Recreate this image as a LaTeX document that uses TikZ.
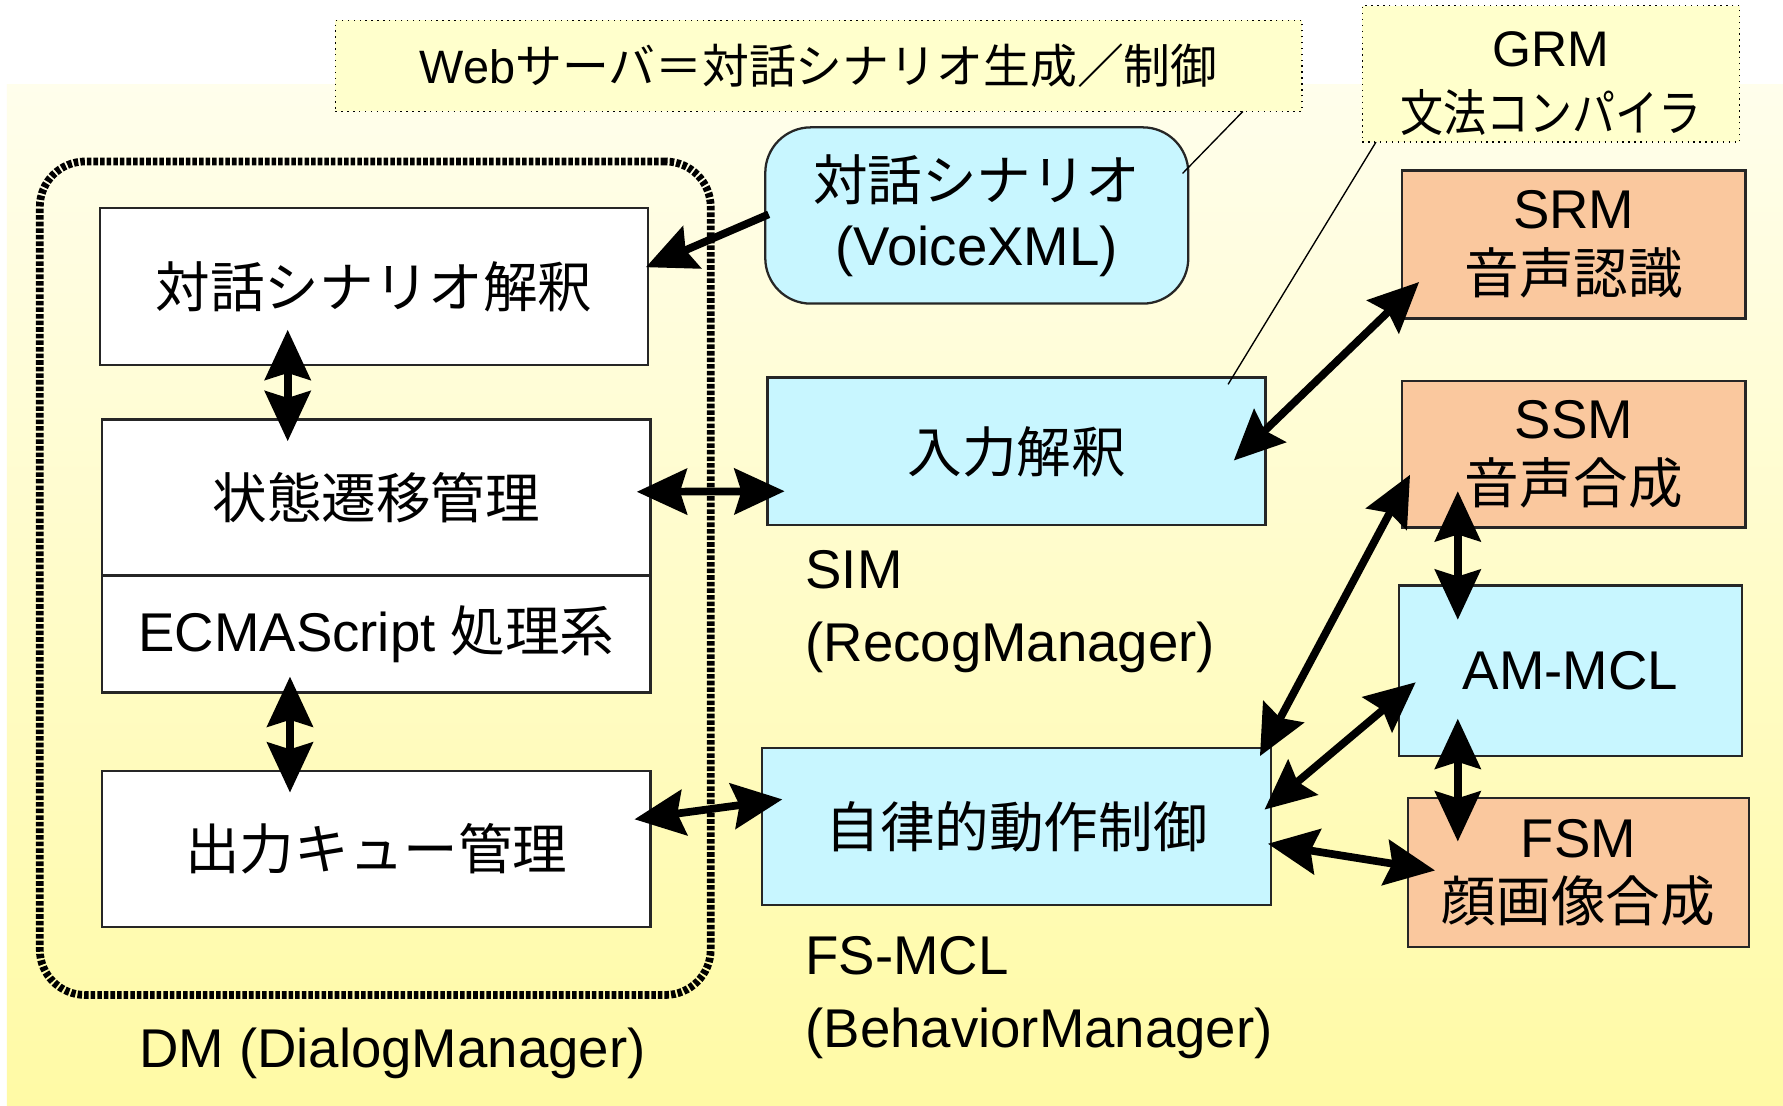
\documentclass[tikz,border=0pt]{standalone}
\usepackage{fontspec}
\setmainfont{Liberation Sans}
\newfontfamily\jp{Noto Sans CJK JP}
\usetikzlibrary{arrows.meta,calc}
\definecolor{bgtop}{RGB}{255,254,236}
\definecolor{bgbot}{RGB}{255,250,165}
\definecolor{cyanbox}{RGB}{200,246,255}
\definecolor{orangebox}{RGB}{250,200,158}
\definecolor{notefill}{RGB}{255,255,204}
\newcommand\bx[7]{\node[#2, minimum width={(#5-#3)*0.5pt}, minimum height={(#6-#4)*0.5pt}] (#1) at ({(#3+#5)/2},{(#4+#6)/2}) {#7};}
\begin{document}
\begin{tikzpicture}[x=0.5pt,y=-0.5pt,
  base/.style={draw=black!85, line width=1pt, inner sep=0pt, outer sep=0pt, align=center, font=\fontsize{24}{28.5}\selectfont},
  whitebox/.style={base, fill=white},
  cyanb/.style={base, fill=cyanbox},
  orangeb/.style={base, fill=orangebox},
  scenb/.style={base, fill=cyanbox, rounded corners=20pt},
  note/.style={base, draw=black, line width=0.6pt, dotted, fill=notefill, font=\fontsize{22}{27.5}\selectfont},
  dmb/.style={draw=black, line width=3.4pt, dash pattern=on 2pt off 0.9pt, rounded corners=20pt, inner sep=0pt, outer sep=0pt},
  lbl/.style={inner sep=0pt, align=left, anchor=west, font=\fontsize{24}{32}\selectfont},
  callout/.style={draw=black, line width=0.6pt},
  tip/.tip={Stealth[length=22pt,width=20pt,inset=3pt]},
  biarrow/.style={line width=3.4pt, tip-tip},
  onearrow/.style={line width=3.4pt, -tip},
]
\useasboundingbox (0,0) rectangle (1568,972);
\fill[white] (0,0) rectangle (1568,972);
\fill[top color=bgtop, bottom color=bgbot] (6,74) rectangle (1568,972);

% notes
\bx{web}{note}{295}{18}{1145}{98}{\fontsize{20.6}{26}\selectfont Web{\jp サーバ＝対話シナリオ生成／制御}}
\bx{grm}{note}{1198}{5}{1530}{125}{\rule{0pt}{24pt}GRM\\[1pt]\scalebox{0.86}[1]{\jp 文法コンパイラ}}

% DM group
\bx{dm}{dmb}{35}{142}{625}{875}{}
\bx{int}{whitebox}{88}{183}{570}{321}{\jp 対話シナリオ解釈}
\bx{state}{whitebox}{90}{369}{572}{506}{\jp 状態遷移管理}
\bx{ecma}{whitebox}{90}{506}{572}{609}{ECMAScript {\jp 処理系}}
\bx{out}{whitebox}{90}{678}{572}{815}{\jp 出力キュー管理}
\node[lbl, anchor=center] (dmlabel) at (345,926) {DM (DialogManager)};

% middle column
\bx{scen}{scenb}{673}{112}{1045}{267}{{\jp 対話シナリオ}\\(VoiceXML)}
\bx{in}{cyanb}{675}{332}{1113}{462}{\jp 入力解釈}
\node[lbl] (simlabel) at (708,538) {SIM\\(RecogManager)};
\bx{auto}{cyanb}{670}{658}{1118}{796}{\jp 自律的動作制御}
\node[lbl] (fslabel) at (708,877) {FS-MCL\\(BehaviorManager)};

% right column
\bx{srm}{orangeb}{1233}{150}{1535}{280}{SRM\\{\jp 音声認識}}
\bx{ssm}{orangeb}{1233}{335}{1535}{464}{SSM\\{\jp 音声合成}}
\bx{am}{cyanb}{1230}{515}{1532}{665}{AM-MCL}
\bx{fsm}{orangeb}{1238}{702}{1538}{833}{FSM\\{\jp 顔画像合成}}

% callouts
\draw[callout] ($(web.south east)+(-52,0)$) -- ($(scen.east)+(-5,-37)$);
\draw[callout] ($(grm.south west)+(12,0)$) -- ($(in.north east)+(-33,6)$);

% arrows
\draw[onearrow] ($(scen.west)+(3,-1)$) -- ($(int.east)+(-2,-17)$);
\draw[biarrow] ($(int.south)+(-76,-31)$) -- ($(state.north)+(-78,19)$);
\draw[biarrow] ($(state.east)+(-12,-5)$) -- ($(in.west)+(15,35)$);
\draw[biarrow] ($(ecma.south)+(-76,-14)$) -- ($(out.north)+(-76,19)$);
\draw[biarrow] ($(out.east)+(-14,-26)$) -- ($(auto.west)+(18,-24)$);
\draw[biarrow] ($(in.east)+(-28,8)$) -- ($(srm.west)+(15,33)$);
\draw[biarrow] ($(auto.north east)+(-10,7)$) -- ($(ssm.west)+(7,18)$);
\draw[biarrow] ($(auto.east)+(-6,-15)$) -- ($(am.west)+(15,10)$);
\draw[biarrow] ($(auto.east)+(-3,15)$) -- ($(fsm.west)+(24,-2)$);
\draw[biarrow] ($(ssm.south)+(-102,-32)$) -- ($(am.north)+(-99,30)$);
\draw[biarrow] ($(am.south)+(-99,-33)$) -- ($(fsm.north)+(-106,38)$);
\end{tikzpicture}
\end{document}
